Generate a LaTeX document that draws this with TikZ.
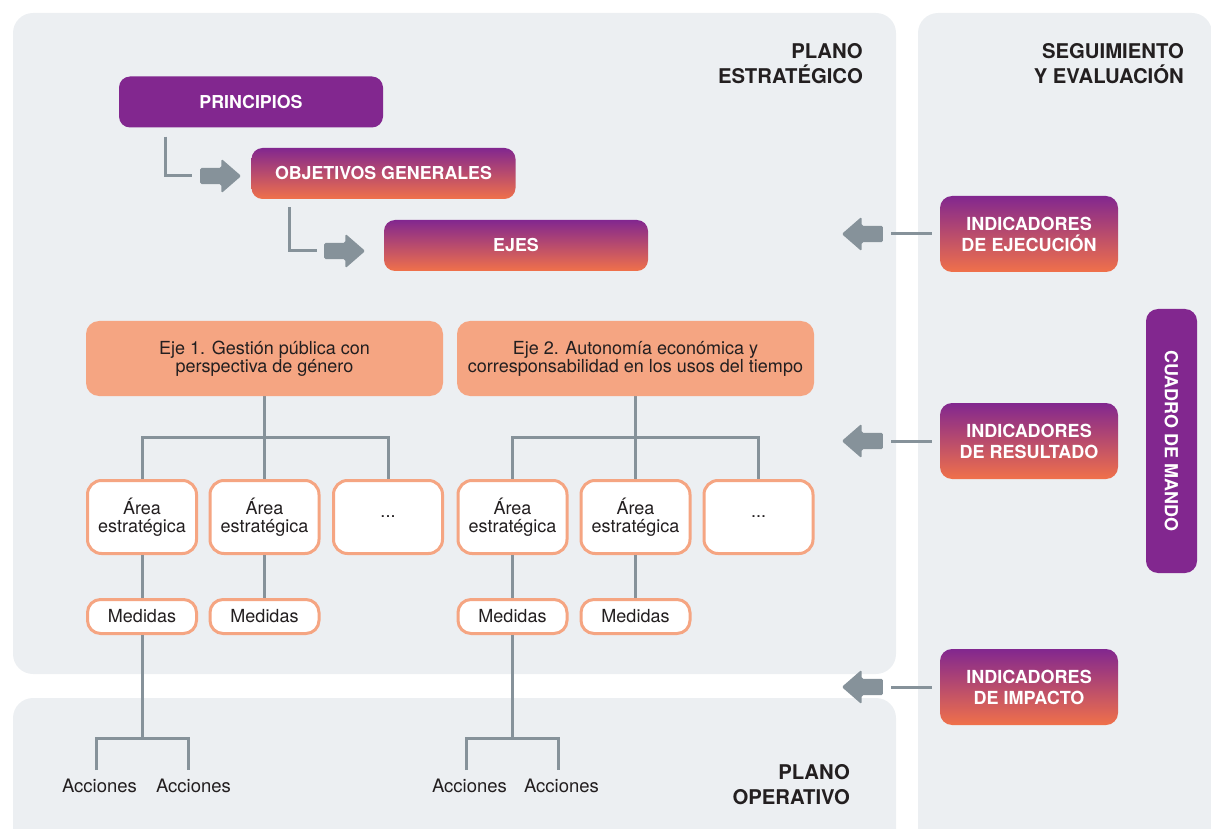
\documentclass[tikz,border=0pt]{standalone}
\usepackage{fontspec}
\setmainfont{TeX Gyre Heros}
\usetikzlibrary{shapes.arrows}
\definecolor{panel}{HTML}{ECEFF2}
\definecolor{purp}{HTML}{82278F}
\definecolor{orng}{HTML}{F0714A}
\definecolor{salmon}{HTML}{F5A582}
\definecolor{lgray}{HTML}{86929A}
\definecolor{ink}{HTML}{231F20}
\begin{document}
\begin{tikzpicture}[x=1pt,y=-1pt,
  conn/.style={draw=lgray,line width=3pt},
  panelbg/.style={fill=panel,rounded corners=20pt},
  topbox/.style={rounded corners=11pt,minimum width=264pt,minimum height=51pt,inner sep=0pt,text=white,font=\bfseries\fontsize{17.8}{20}\selectfont},
  gradbox/.style={top color=purp,bottom color=orng,draw=none},
  indbox/.style={gradbox,rounded corners=12pt,minimum width=178pt,minimum height=76pt,inner sep=0pt,text=white,align=center,font=\bfseries\fontsize{18}{21}\selectfont},
  ejebox/.style={fill=salmon,rounded corners=13pt,minimum width=357pt,minimum height=75pt,inner sep=0pt,align=center,text=ink,font=\fontsize{18}{18}\selectfont},
  areabox/.style={draw=salmon,line width=3pt,fill=white,rounded corners=14pt,minimum width=109pt,minimum height=73pt,inner sep=0pt,align=center,text=ink,font=\fontsize{18}{18}\selectfont},
  medbox/.style={areabox,rounded corners=13pt,minimum height=34pt},
  header/.style={align=right,text=ink,font=\bfseries\fontsize{20.3}{25}\selectfont,inner sep=0pt},
  plaintext/.style={text=ink,font=\fontsize{18.5}{18}\selectfont,inner sep=0pt},
  garrow/.style={single arrow,fill=lgray,draw=none,minimum height=41pt,single arrow head extend=9pt,single arrow tip angle=82,inner xsep=0pt,inner ysep=8pt,rounded corners=1.5pt},
]
\useasboundingbox (0,0) rectangle (1211,829);
\clip (0,0) rectangle (1211,829);
% panels
\fill[panelbg] (13,13) rectangle (896,674);
\fill[panelbg] (13,698) rectangle (896,850);
\fill[panelbg] (918,13) rectangle (1212,850);
% headers
\node[header,anchor=east] (hpe) at (863,64) {PLANO\\ESTRATÉGICO};
\node[header,anchor=east] (hse) at (1184,64) {SEGUIMIENTO\\Y EVALUACIÓN};
\node[header,anchor=east] (hpo) at (850,784.5) {PLANO\\OPERATIVO};
% top cascade
\node[topbox,fill=purp] (pr) at (251,102) {PRINCIPIOS};
\node[topbox,gradbox] (og) at (383.5,173.5) {OBJETIVOS GENERALES};
\node[topbox,gradbox] (ej) at (516,245.5) {EJES};
\node[garrow,anchor=tail] (ra1) at (200,176) {};
\node[garrow,anchor=tail] (ra2) at (324,251) {};
\draw[conn] ([xshift=47pt,yshift=-9pt]pr.south west) |- ([xshift=-8pt]ra1.tail);
\draw[conn] ([xshift=38pt,yshift=-8pt]og.south west) |- ([xshift=-7pt]ra2.tail);
% indicators
\node[indbox] (i1) at (1029,234) {INDICADORES\\DE EJECUCIÓN};
\node[indbox] (i2) at (1029,441) {INDICADORES\\DE RESULTADO};
\node[indbox] (i3) at (1029,687) {INDICADORES\\DE IMPACTO};
\node[garrow,shape border rotate=180,anchor=tail] (la1) at (883,234) {};
\node[garrow,shape border rotate=180,anchor=tail] (la2) at (883,441) {};
\node[garrow,shape border rotate=180,anchor=tail] (la3) at (883,687) {};
\draw[conn] ([xshift=-8pt]i1.west) -- ([xshift=8pt]la1.tail);
\draw[conn] ([xshift=-8pt]i2.west) -- ([xshift=8pt]la2.tail);
\draw[conn] ([xshift=-8pt]i3.west) -- ([xshift=8pt]la3.tail);
\node[fill=purp,rounded corners=12pt,minimum width=264pt,minimum height=51pt,inner sep=0pt,rotate=-90,text=white,font=\bfseries\fontsize{18}{20}\selectfont] (cm) at (1171.5,441) {CUADRO DE MANDO};
% tree coordinates
\coordinate (j1) at (264.5,437);
\coordinate (j2) at (635.5,437);
\coordinate (j3) at (142,738);
\coordinate (j4) at (512.5,738);
\coordinate (b1) at (96,770);
\coordinate (b2) at (188,770);
\coordinate (b3) at (466.5,770);
\coordinate (b4) at (558.5,770);
% tree lines (drawn under boxes)
\draw[conn] (264.5,396) -- (j1);
\draw[conn] (142,481) |- (j1) -| (388,481);
\draw[conn] (j1) -- (264.5,481);
\draw[conn] (635.5,396) -- (j2);
\draw[conn] (512.5,481) |- (j2) -| (758.5,481);
\draw[conn] (j2) -- (635.5,481);
% eje boxes
\node[ejebox] (e1) at (264.5,358.5) {Eje 1. Gestión pública con\\perspectiva de género};
\node[ejebox] (e2) at (635.5,358.5) {Eje 2. Autonomía económica y\\corresponsabilidad en los usos del tiempo};
% area boxes
\node[areabox] (a1) at (142,517) {Área\\estratégica};
\node[areabox] (a2) at (264.5,517) {Área\\estratégica};
\node[areabox] (a3) at (388,517) {...};
\node[areabox] (a4) at (512.5,517) {Área\\estratégica};
\node[areabox] (a5) at (635.5,517) {Área\\estratégica};
\node[areabox] (a6) at (758.5,517) {...};
% medidas
\node[medbox] (m1) at (142,616.5) {Medidas};
\node[medbox] (m2) at (264.5,616.5) {Medidas};
\node[medbox] (m4) at (512.5,616.5) {Medidas};
\node[medbox] (m5) at (635.5,616.5) {Medidas};
\draw[conn] (a1.south) -- (m1.north);
\draw[conn] (a2.south) -- (m2.north);
\draw[conn] (a4.south) -- (m4.north);
\draw[conn] (a5.south) -- (m5.north);
\draw[conn] (m1.south) -- (j3);
\draw[conn] (b1) |- (j3) -| (b2);
\draw[conn] (m4.south) -- (j4);
\draw[conn] (b3) |- (j4) -| (b4);
% acciones
\node[plaintext,anchor=base] (ac1) at (99.5,792) {Acciones};
\node[plaintext,anchor=base] (ac2) at (193.5,792) {Acciones};
\node[plaintext,anchor=base] (ac3) at (469.5,792) {Acciones};
\node[plaintext,anchor=base] (ac4) at (561.5,792) {Acciones};
\end{tikzpicture}
\end{document}
